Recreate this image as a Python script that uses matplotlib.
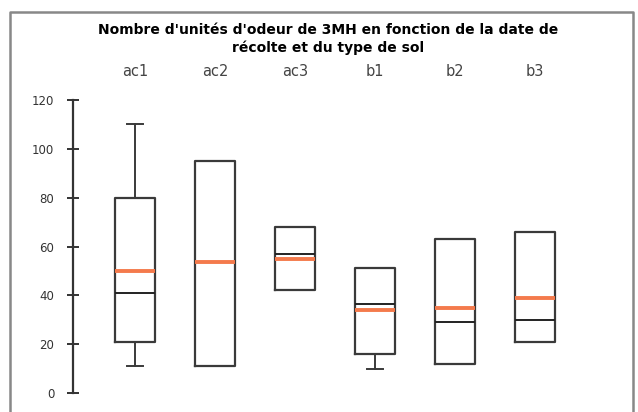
#!/usr/bin/env python3
# -*- coding: utf-8 -*-

# Box plot: odour units of 3MH by harvest date and soil type

import matplotlib
matplotlib.use('Agg')
import matplotlib.pyplot as plt
from matplotlib.lines import Line2D

# Data
categories = ['ac1', 'ac2', 'ac3', 'b1', 'b2', 'b3']
whisker_low = [11, 11, 42, 10, 12, 21]
q1 = [21, 11, 42, 16, 12, 21]
median = [41, 53.5, 57, 36.5, 29, 30]
q3 = [80, 95, 68, 51, 63, 66]
whisker_high = [110, 95, 68, 51, 63, 66]
mean = [50, 53.5, 55, 34, 35, 39]
y_ticks = [0, 20, 40, 60, 80, 100, 120]

plt.rcParams['font.family'] = ['DejaVu Sans']

fig = plt.figure(figsize=(6.38, 4.12), dpi=100)
ax = fig.add_axes([73/638, 19/412, 510/638, 293/412])

stats = []
for i in range(len(categories)):
    stats.append({'label': categories[i], 'whislo': whisker_low[i], 'q1': q1[i],
                  'med': median[i], 'q3': q3[i], 'whishi': whisker_high[i],
                  'mean': mean[i]})

box_col = '#3a3a3a'
positions = list(range(1, len(categories) + 1))
ax.bxp(stats, positions=positions, widths=0.5, showmeans=True, meanline=True,
       showfliers=False,
       boxprops=dict(color=box_col, lw=1.6),
       medianprops=dict(color='#222222', lw=1.4),
       meanprops=dict(color='#f47a4c', lw=2.8, ls='-'),
       whiskerprops=dict(color=box_col, lw=1.4),
       capprops=dict(color=box_col, lw=1.4), capwidths=0.2)

ax.set_xlim(0.225, 6.6)
ax.set_ylim(0, 120)
ax.set_yticks(y_ticks)
ax.set_xticks([])
for s in ['top', 'right', 'bottom']:
    ax.spines[s].set_visible(False)
ax.spines['left'].set_color('#333333')
ax.spines['left'].set_linewidth(1.6)
ax.tick_params(axis='y', direction='inout', length=9, width=1.4, color='#333333',
               labelsize=8.5, labelcolor='#333333', pad=9)

# category names above the boxes
for p, c in zip(positions, categories):
    ax.text(p, 1.096, c, transform=ax.get_xaxis_transform(), ha='center',
            va='center', fontsize=10.5, color='#444444')

fig.text(328/638, 1 - 39/412,
         "Nombre d'unités d'odeur de 3MH en fonction de la date de\nrécolte et du type de sol",
         ha='center', va='center', fontsize=10, fontweight='bold', linespacing=1.3)

# frame around the chart (bottom edge is cut off)
fig.add_artist(Line2D([10/638, 10/638, 633/638, 633/638], [0, 1 - 12/412, 1 - 12/412, 0],
                      transform=fig.transFigure, color='#888888', lw=1.8))

fig.savefig('out.png', dpi=100)
